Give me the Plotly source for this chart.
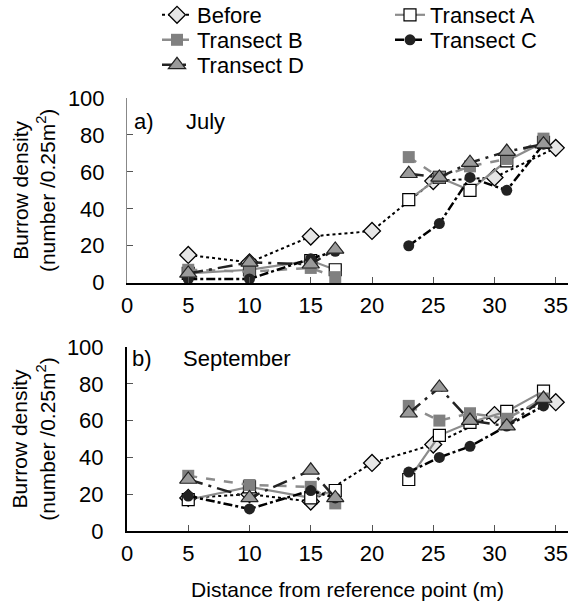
import plotly.graph_objects as go

# ---------------- data ----------------
before_x = [5, 10, 15, 20, 25, 30, 35]
transect_x = [5, 10, 15, 17, None, 23, 25.5, 28, 31, 34]

# July
jul_before = [15, 11, 25, 28, 55, 57, 73]
jul_A = [5, 7, 12, 7, None, 45, 57, 50, 66, 76]
jul_B = [7, 6, 8, 3, None, 68, 57, 63, 67, 78]
jul_C = [2, 2, 13, 17, None, 20, 32, 57, 50, 75]
jul_D = [5, 11, 10, 18, None, 59, 57, 65, 71, 75]

# September
sep_before = [18, 20, 16, 37, 47, 63, 70]
sep_A = [17, 24, 18, 22, None, 28, 52, 59, 65, 76]
sep_B = [30, 25, 24, 15, None, 68, 60, 64, 61, 72]
sep_C = [19, 12, 22, 18, None, 32, 40, 46, 57, 68]
sep_D = [28, 18, 33, 18, None, 64, 78, 60, 57, 72]

x_ticks = [0, 5, 10, 15, 20, 25, 30, 35]
y_ticks = [0, 20, 40, 60, 80, 100]

FONT = "Arial, Liberation Sans, sans-serif"

styles = {
    "Before": dict(line=dict(color="black", width=2, dash="dot"),
                   marker=dict(symbol="diamond", size=13, color="#e6e6e6",
                               line=dict(color="black", width=1.3))),
    "Transect A": dict(line=dict(color="#8c8c8c", width=2.2, dash="solid"),
                       marker=dict(symbol="square", size=12, color="white",
                                   line=dict(color="black", width=1.2))),
    "Transect B": dict(line=dict(color="#8c8c8c", width=2.5, dash="dash"),
                       marker=dict(symbol="square", size=12, color="#808080",
                                   line=dict(color="#808080", width=0))),
    "Transect C": dict(line=dict(color="black", width=2.5, dash="dashdot"),
                       marker=dict(symbol="circle", size=11, color="#222222",
                                   line=dict(color="#222222", width=0))),
    "Transect D": dict(line=dict(color="#222222", width=2.5, dash="longdashdot"),
                       marker=dict(symbol="triangle-up", size=15, color="#9a9a9a",
                                   line=dict(color="#222222", width=1.2))),
}
legend_of = {"Before": "legend", "Transect A": "legend2",
             "Transect B": "legend3", "Transect C": "legend4",
             "Transect D": "legend5"}

fig = go.Figure()

def add_panel(before, A, B, C, D, xa, ya, show):
    order = [("Before", before_x, before), ("Transect A", transect_x, A),
             ("Transect B", transect_x, B), ("Transect C", transect_x, C),
             ("Transect D", transect_x, D)]
    for name, xs, ys in order:
        st = styles[name]
        fig.add_trace(go.Scatter(
            x=xs, y=ys, name=name, mode="lines+markers",
            line=st["line"], marker=st["marker"],
            xaxis=xa, yaxis=ya, showlegend=show, legend=legend_of[name],
            connectgaps=False, cliponaxis=False))

add_panel(jul_before, jul_A, jul_B, jul_C, jul_D, "x", "y", True)
add_panel(sep_before, sep_A, sep_B, sep_C, sep_D, "x2", "y2", False)

H = 602.0
L, R = 127, 9
PW = 577 - L - R
def py(p):
    return 1 - p / H
def px(p):
    return (p - L) / PW

TICKFONT = dict(size=22, color="black", family=FONT)
xcommon = dict(range=[0, 36], tickvals=x_ticks, ticks="inside", ticklen=6,
               tickcolor="#555", showline=True, linecolor="black", linewidth=2,
               showgrid=False, zeroline=False, tickfont=TICKFONT, automargin=False,
               ticklabelstandoff=2)
ycommon = dict(range=[0, 100], tickvals=y_ticks, ticks="inside", ticklen=6,
               tickcolor="#555", showline=True, showgrid=False, zeroline=False,
               tickfont=TICKFONT, automargin=False, ticklabelstandoff=17)
ytitle = dict(text="Burrow density<br>(number /0.25m<sup>2</sup>)",
              font=dict(size=21, color="black"), standoff=6)

leg_common = dict(orientation="v", xanchor="left", yanchor="middle",
                  font=dict(size=22, color="black", family=FONT),
                  bgcolor="rgba(0,0,0,0)", itemwidth=30, borderwidth=0)
C1, C2 = px(157), px(390)

def label(text, x, y):
    return dict(text=text, xref="paper", yref="paper", x=px(x), y=py(y),
                xanchor="left", yanchor="middle", showarrow=False,
                font=dict(size=22, color="black"))

fig.update_layout(
    template="none",
    width=577, height=602,
    margin=dict(l=L, r=R, t=0, b=0, autoexpand=False),
    paper_bgcolor="white", plot_bgcolor="white",
    font=dict(family=FONT, color="black"),
    xaxis=dict(domain=[0, 1], anchor="y", **xcommon),
    yaxis=dict(domain=[py(282.7), py(98)], anchor="x", linecolor="#888",
               linewidth=1, title=ytitle, **ycommon),
    xaxis2=dict(domain=[0, 1], anchor="y2",
                title=dict(text="Distance from reference point (m)",
                           font=dict(size=21, color="black"), standoff=17),
                **xcommon),
    yaxis2=dict(domain=[py(531), py(347)], anchor="x2", linecolor="black",
                linewidth=2, title=ytitle, **ycommon),
    legend=dict(x=C1, y=py(15), **leg_common),
    legend2=dict(x=C2, y=py(15), **leg_common),
    legend3=dict(x=C1, y=py(40), **leg_common),
    legend4=dict(x=C2, y=py(40), **leg_common),
    legend5=dict(x=C1, y=py(65), **leg_common),
    annotations=[
        label("a)", 132, 121),
        label("July", 184, 121),
        label("b)", 130, 358),
        label("September", 181, 358),
    ],
)

fig.write_html("out.html", config={"displayModeBar": False},
               post_script="document.body.style.margin='0px';")
